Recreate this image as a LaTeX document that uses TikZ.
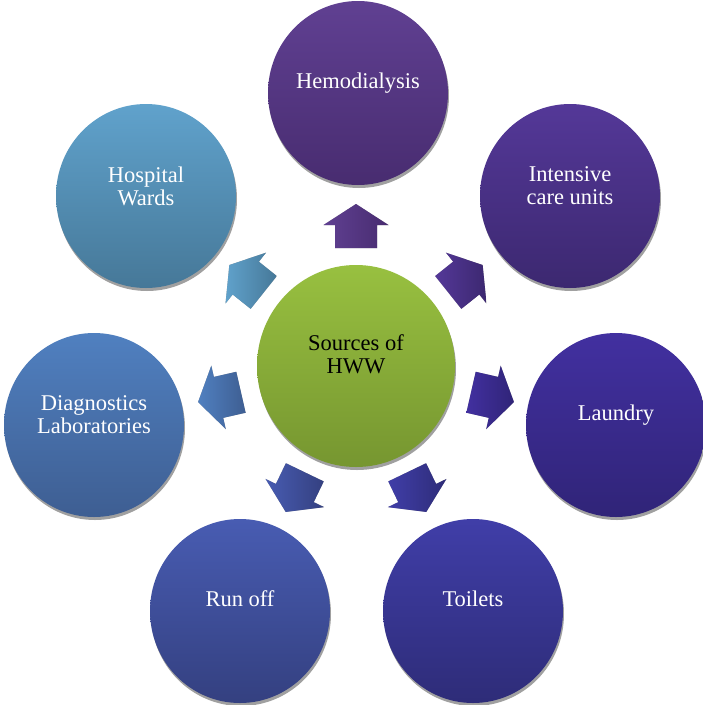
\documentclass[tikz,border=0pt]{standalone}
\usepackage{fontspec}
\setmainfont{Liberation Serif}
\usetikzlibrary{calc,shapes.geometric}
\definecolor{hemoT}{RGB}{96,64,146}\definecolor{hemoB}{RGB}{72,44,112}
\definecolor{icuT}{RGB}{84,56,152}\definecolor{icuB}{RGB}{60,40,112}
\definecolor{lauT}{RGB}{66,48,160}\definecolor{lauB}{RGB}{48,36,120}
\definecolor{toiT}{RGB}{64,62,168}\definecolor{toiB}{RGB}{46,44,120}
\definecolor{runT}{RGB}{72,92,178}\definecolor{runB}{RGB}{52,64,128}
\definecolor{diaT}{RGB}{80,128,192}\definecolor{diaB}{RGB}{62,94,146}
\definecolor{warT}{RGB}{96,162,204}\definecolor{warB}{RGB}{70,120,152}
\definecolor{srcT}{RGB}{152,192,64}\definecolor{srcB}{RGB}{118,150,48}
\definecolor{shad}{RGB}{160,160,160}
\begin{document}
\begin{tikzpicture}[x=1pt,y=-1pt,
  bubble/.style={ellipse, minimum width=180pt, minimum height=184pt, inner sep=0pt},
  bubshadow/.style={bubble, fill=shad},
  lbl/.style={text=white, align=center, font=\fontsize{22.5}{23}\selectfont},
  srclbl/.style={text=black, align=center, font=\fontsize{22.5}{23}\selectfont}
]
\useasboundingbox[fill=white] (0,0) rectangle (703,705);
% shadows of circles
\foreach \x/\y/\n in {358/93/hemo,570/196/icu,616/425/lau,473/611/toi,240/611/run,94/425/dia,146/196/war}
  \node[bubshadow] (\n S) at (\x+1,\y+3) {};
\node[ellipse, minimum width=198pt, minimum height=202pt, inner sep=0pt, fill=shad] (srcS) at (357,369) {};
% circles
\node[bubble, top color=hemoT, bottom color=hemoB] (hemo) at (358,93) {};
\node[bubble, top color=icuT, bottom color=icuB] (icu) at (570,196) {};
\node[bubble, top color=lauT, bottom color=lauB] (lau) at (616,425) {};
\node[bubble, top color=toiT, bottom color=toiB] (toi) at (473,611) {};
\node[bubble, top color=runT, bottom color=runB] (run) at (240,611) {};
\node[bubble, top color=diaT, bottom color=diaB] (dia) at (94,425) {};
\node[bubble, top color=warT, bottom color=warB] (war) at (146,196) {};
\node[ellipse, minimum width=198pt, minimum height=202pt, inner sep=0pt, top color=srcT, bottom color=srcB] (src) at (356,366) {};
% arrows
\foreach \a/\ct/\cb in {-90/hemoT/hemoB,-38.57/icuT/icuB,12.86/lauT/lauB,64.29/toiT/toiB,115.71/runT/runB,167.14/diaT/diaB,218.57/warT/warB}{
  \fill[shad, shift={(1.5,2.5)}] ($(src)+(\a:118)+(\a+90:21)$) -- ($(src)+(\a:141)+(\a+90:21)$) -- ($(src)+(\a:141)+(\a+90:32.5)$) -- ($(src)+(\a:162)$) -- ($(src)+(\a:141)+(\a-90:32.5)$) -- ($(src)+(\a:141)+(\a-90:21)$) -- ($(src)+(\a:118)+(\a-90:21)$) -- cycle;
  \shade[left color=\ct, right color=\cb] ($(src)+(\a:118)+(\a+90:21)$) -- ($(src)+(\a:141)+(\a+90:21)$) -- ($(src)+(\a:141)+(\a+90:32.5)$) -- ($(src)+(\a:162)$) -- ($(src)+(\a:141)+(\a-90:32.5)$) -- ($(src)+(\a:141)+(\a-90:21)$) -- ($(src)+(\a:118)+(\a-90:21)$) -- cycle;
}
% labels
\node[lbl] (hemoL) at ($(hemo)+(0,-10)$) {Hemodialysis};
\node[lbl] (icuL) at ($(icu)+(0,-10)$) {Intensive\\care units};
\node[lbl] (lauL) at ($(lau)+(0,-10)$) {Laundry};
\node[lbl] (toiL) at ($(toi)+(0,-12)$) {Toilets};
\node[lbl] (runL) at ($(run)+(0,-12)$) {Run off};
\node[lbl] (diaL) at ($(dia)+(0,-10)$) {Diagnostics\\Laboratories};
\node[lbl] (warL) at ($(war)+(0,-10)$) {Hospital\\Wards};
\node[srclbl] (srcL) at ($(src)+(0,-12)$) {Sources of\\HWW};
\end{tikzpicture}
\end{document}
